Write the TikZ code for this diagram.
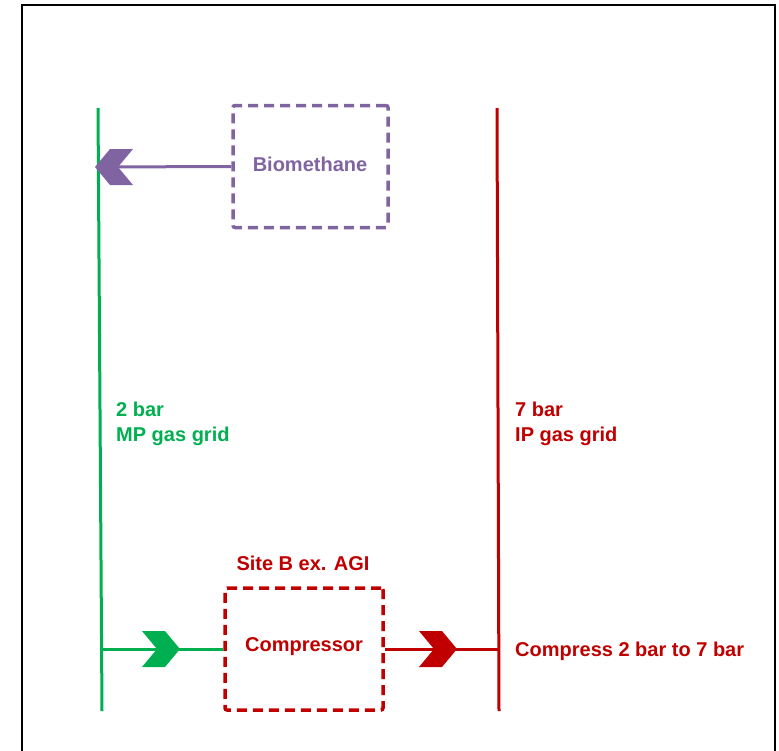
\documentclass[tikz,border=0pt]{standalone}
\usepackage{fontspec}
\setmainfont{Liberation Sans}
\definecolor{gridgreen}{HTML}{00B050}
\definecolor{gridred}{HTML}{C00000}
\definecolor{biopurple}{HTML}{8064A2}
\tikzset{
  px/.style={x=1pt,y=-1pt},
  gridline/.style={line width=3pt},
  dashbox/.style={draw, line width=3.5pt, dash pattern=on 10pt off 6pt, rounded corners=2pt, inner sep=0pt},
  lbl/.style={font=\bfseries\fontsize{20}{25}\selectfont, inner sep=0pt, align=left},
  flow/.style={line width=3pt},
  pics/chevron/.style={code={\fill (0,0) -- (-15,-18) -- (-38,-18) -- (-23,0) -- (-38,18) -- (-15,18) -- cycle;}}
}
\begin{document}
\begin{tikzpicture}[px]
\useasboundingbox (0,0) rectangle (779,750);
% frame
\draw[line width=2.5pt, black] (22,760) -- (22,5) -- (775,5) -- (775,760);
% grid lines
\coordinate (gtop) at (98,108);
\coordinate (gbot) at (102,711);
\coordinate (rtop) at (497,108);
\coordinate (rbot) at (499,711);
\draw[gridline, gridgreen] (gtop) -- (gbot);
\draw[gridline, gridred] (rtop) -- (rbot);
% boxes
\node[dashbox, biopurple, text=biopurple, lbl, minimum width=155pt, minimum height=122pt] (bio) at (310.5,166.5) {};
\node[lbl, text=biopurple] (biot) at (310,164) {Biomethane};
\node[dashbox, gridred, minimum width=158pt, minimum height=122pt] (comp) at (304,649) {};
\node[lbl, text=gridred] (compt) at (304,647) {Compressor};
% connectors
\coordinate (gA) at (98.5,167);
\coordinate (gB) at (101.5,649);
\coordinate (rB) at (499,649);
\draw[flow, biopurple] (bio.west) -- (gA);
\draw[flow, gridgreen] (gB) -- (comp.west);
\draw[flow, gridred] (comp.east) -- (rB);
% chevrons
\pic[biopurple, xscale=-1] at (95,167) {chevron};
\pic[gridgreen] at (180,649) {chevron};
\pic[gridred] at (457,649) {chevron};
% labels
\node[lbl, text=gridgreen, anchor=west] (mp) at (116,424) {2 bar\\MP gas grid};
\node[lbl, text=gridred, anchor=west] (ip) at (515,424) {7 bar\\IP gas grid};
\node[lbl, text=gridred] (site) at (303,563) {Site B ex. AGI};
\node[lbl, text=gridred, anchor=west] (cmp) at (515,651) {Compress 2 bar to 7 bar};
\end{tikzpicture}
\end{document}
